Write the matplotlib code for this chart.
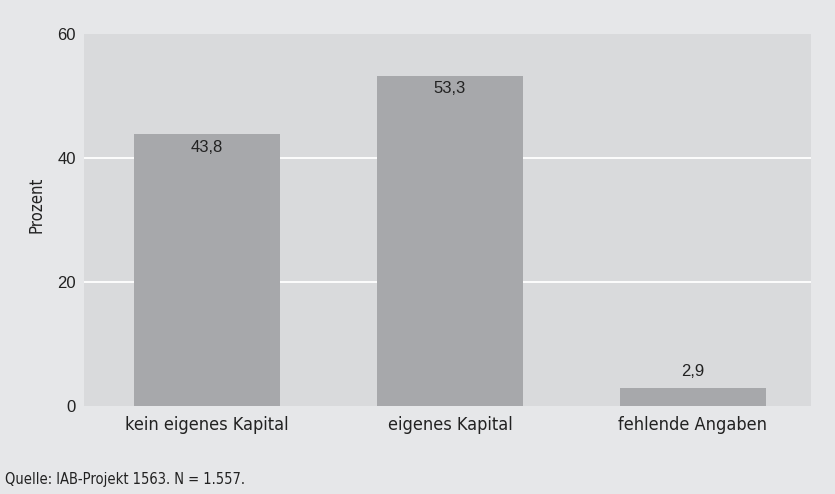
import matplotlib
matplotlib.use("Agg")
import matplotlib.pyplot as plt
from matplotlib import font_manager

categories = ["kein eigenes Kapital", "eigenes Kapital", "fehlende Angaben"]
values = [43.8, 53.3, 2.9]
labels = ["43,8", "53,3", "2,9"]
yticks = [0, 20, 40, 60]
gridlines = [20, 40]

cond = font_manager.FontProperties(family="DejaVu Sans", stretch="condensed", size=13)

fig = plt.figure(figsize=(8.35, 4.94), dpi=100)
fig.patch.set_facecolor("#e6e7e9")
ax = fig.add_axes([84/835, 1-406/494, 727/835, 372/494])
ax.set_facecolor("#d9dadc")
x = list(range(len(categories)))
ax.bar(x, values, width=0.6, color="#a7a8ab", zorder=3)
ax.set_xlim(-0.506, 2.486)
ax.set_ylim(0, 60)
ax.set_yticks(yticks)
ax.set_yticklabels([str(t) for t in yticks], fontsize=12, family="Liberation Sans", color="#222222")
ax.set_xticks(x)
ax.set_xticklabels(categories, color="#222222")
for t in ax.get_xticklabels():
    t.set_fontproperties(cond)
ax.tick_params(length=0)
ax.tick_params(axis="x", pad=7)
ax.tick_params(axis="y", pad=6)
for g in gridlines:
    ax.axhline(g, color="white", linewidth=1.3, zorder=1)
for s in ax.spines.values():
    s.set_visible(False)
for xi, v, lab in zip(x, values, labels):
    if v > 10:
        ax.text(xi, v - 0.9, lab, ha="center", va="top", fontsize=12,
                family="Liberation Sans", color="#222222", zorder=4)
    else:
        ax.text(xi, v + 1.4, lab, ha="center", va="bottom", fontsize=12,
                family="Liberation Sans", color="#222222", zorder=4)
ax.set_ylabel("Prozent", color="#222222")
ax.yaxis.label.set_fontproperties(font_manager.FontProperties(family="DejaVu Sans", stretch="condensed", size=12))
ax.yaxis.set_label_coords(-0.053, 0.54)
fig.text(5/835, 1-479/494, "Quelle: IAB-Projekt 1563. N = 1.557.", color="#222222", va="center",
         fontproperties=font_manager.FontProperties(family="DejaVu Sans", stretch="condensed", size=10.5))
fig.savefig("out.png", dpi=100, facecolor=fig.get_facecolor())
